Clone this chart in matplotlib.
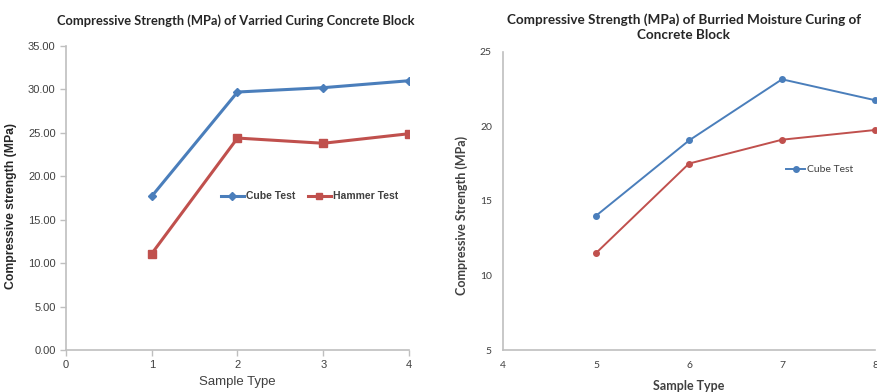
import matplotlib.pyplot as plt

# left chart: varried curing
samples_left = [1, 2, 3, 4]
cube_left = [17.7, 29.7, 30.2, 31.0]
hammer_left = [11.1, 24.4, 23.8, 24.9]
yticks_left = [0, 5, 10, 15, 20, 25, 30, 35]

# right chart: burried moisture curing
samples_right = [5, 6, 7, 8]
cube_right = [14.0, 19.05, 23.15, 21.75]
hammer_right = [11.5, 17.5, 19.1, 19.75]
yticks_right = [5, 10, 15, 20, 25]

blue = '#4a7ebb'
red = '#c0504d'
axis_grey = '#bfbfbf'
text_grey = '#404040'
calibri_like = ['Lato', 'DejaVu Sans']
arial_like = ['Liberation Sans', 'DejaVu Sans']

fig = plt.figure(figsize=(8.78, 3.92), dpi=100)
ax1 = fig.add_axes([0.0752, 0.1071, 0.3906, 0.7756])
ax2 = fig.add_axes([0.5729, 0.1071, 0.4237, 0.7610])

for ax in (ax1, ax2):
    for side in ('top', 'right'):
        ax.spines[side].set_visible(False)
    for side in ('left', 'bottom'):
        ax.spines[side].set_color(axis_grey)
        ax.spines[side].set_linewidth(1.2)
    ax.tick_params(colors=axis_grey, length=4, width=1)

# left
ax1.plot(samples_left, cube_left, color=blue, lw=2.2, marker='D', ms=4.5, label='Cube Test')
ax1.plot(samples_left, hammer_left, color=red, lw=2.2, marker='s', ms=6, label='Hammer Test')
ax1.set_xlim(0, 4)
ax1.set_ylim(0, 35)
ax1.set_xticks([0, 1, 2, 3, 4])
ax1.set_yticks(yticks_left)
ax1.set_yticklabels(['%.2f' % v for v in yticks_left])
for lab in ax1.get_xticklabels() + ax1.get_yticklabels():
    lab.set_family(arial_like)
    lab.set_fontsize(8)
    lab.set_color(text_grey)
ax1.set_xlabel('Sample Type', family=arial_like, fontsize=9.5, color=text_grey, labelpad=4)
ax1.set_ylabel('Compressive strength (MPa)', family=arial_like, fontsize=8.8,
               fontweight='bold', color='#262626')
ax1.yaxis.set_label_coords(-0.143, 0.475)
fig.text(0.269, 0.948, 'Compressive Strength (MPa) of Varried Curing Concrete Block',
         family=calibri_like, fontsize=9.3, fontweight='bold', color='#262626', ha='center', va='center')
leg1 = ax1.legend(loc='center', bbox_to_anchor=(0.71, 0.506), ncol=2, frameon=False,
                  handlelength=2.2, columnspacing=1.2, handletextpad=0.2, markerscale=0.8,
                  prop={'family': arial_like, 'size': 7.5, 'weight': 'bold'})
for t in leg1.get_texts():
    t.set_color(text_grey)

# right
ax2.plot(samples_right, cube_right, color=blue, lw=1.4, marker='o', ms=4, label='Cube Test',
         clip_on=False)
ax2.plot(samples_right, hammer_right, color=red, lw=1.4, marker='o', ms=4, clip_on=False)
ax2.set_xlim(4, 8)
ax2.set_ylim(5, 25)
ax2.set_xticks([4, 5, 6, 7, 8])
ax2.set_yticks(yticks_right)
for lab in ax2.get_xticklabels() + ax2.get_yticklabels():
    lab.set_family(calibri_like)
    lab.set_fontsize(7.5)
    lab.set_color(text_grey)
ax2.tick_params(length=0, pad=8)
ax2.set_xlabel('Sample Type', family=calibri_like, fontsize=9, fontweight='bold', color=text_grey, labelpad=7)
ax2.set_ylabel('Compressive Strength (MPa)', family=calibri_like, fontsize=9, fontweight='bold',
               color=text_grey)
ax2.yaxis.set_label_coords(-0.095, 0.45)
fig.text(0.779, 0.930, 'Compressive Strength (MPa) of Burried Moisture Curing of\nConcrete Block',
         family=calibri_like, fontsize=9.7, fontweight='bold', color='#262626', ha='center', va='center',
         linespacing=1.3)
leg2 = ax2.legend(loc='center', bbox_to_anchor=(0.852, 0.604), frameon=False,
                  handlelength=1.8, handletextpad=0.2,
                  prop={'family': calibri_like, 'size': 7.5})
for t in leg2.get_texts():
    t.set_color(text_grey)

fig.savefig('out.png', dpi=100)
